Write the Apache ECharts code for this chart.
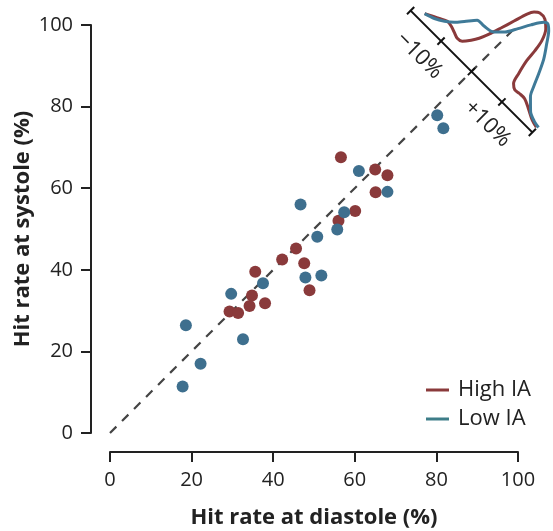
<!DOCTYPE html>
<html>
<head>
<meta charset="utf-8">
<script src="https://cdn.jsdelivr.net/npm/echarts@6/dist/echarts.min.js"></script>
<style>
html,body{margin:0;padding:0;background:#fff;}
#chart{width:553px;height:531px;}
</style>
</head>
<body>
<div id="chart"></div>
<script>
// ---- data ----
const axisTicks = [0, 20, 40, 60, 80, 100];
const highX = [56.6, 65.0, 68.0, 65.1, 60.1, 56.0, 45.6, 42.2, 47.6, 35.6, 48.9, 34.8, 34.2, 38.0, 29.3, 31.4];
const highY = [67.6, 64.6, 63.2, 59.0, 54.4, 52.0, 45.2, 42.5, 41.6, 39.5, 35.0, 33.7, 31.1, 31.8, 29.8, 29.4];
const lowX = [80.2, 81.7, 61.0, 68.0, 46.7, 57.4, 55.7, 50.8, 47.9, 51.8, 37.5, 29.7, 32.6, 18.6, 22.2, 17.8];
const lowY = [77.9, 74.7, 64.2, 59.1, 56.0, 54.1, 49.9, 48.1, 38.1, 38.6, 36.7, 34.1, 23.0, 26.4, 17.0, 11.4];

// inset: distribution of difference (%), relative density
const insetTicks = [-20, -10, 0, 10, 20];
const insetLabels = ['', '\u221210%', '', '+10%', ''];
const highDiff = [-17.2, -14.0, -12.2, -10.7, -9.3, -7.8, -6.5, -5.2, -4.2, -3.25, -2.3, -1.3, -0.3, 0.5, 1.6, 3.4, 5.2, 6.5, 7.0, 7.3, 8.1, 8.9, 10.1, 11.5, 13.2, 15.4, 18.0, 19.8];
const highDens = [0.078, 0.148, 0.184, 0.177, 0.156, 0.134, 0.148, 0.219, 0.29, 0.389, 0.516, 0.658, 0.799, 0.863, 0.898, 0.891, 0.827, 0.714, 0.594, 0.467, 0.318, 0.212, 0.177, 0.184, 0.184, 0.141, 0.085, 0.064];
const lowDiff = [-17.2, -14.8, -12.7, -10.9, -9.4, -7.5, -5.4, -2.8, -1.0, 0.6, 2.1, 3.8, 4.7, 6.0, 7.8, 9.8, 11.4, 12.7, 13.8, 16.3, 18.5, 20.2];
const lowDens = [0.078, 0.113, 0.165, 0.228, 0.304, 0.403, 0.41, 0.438, 0.516, 0.633, 0.75, 0.859, 0.877, 0.834, 0.728, 0.601, 0.46, 0.332, 0.24, 0.134, 0.092, 0.078];

// ---- styles / layout ----
const RED = '#8a3a3b';
const BLUE = '#3e6f8e';
const BLUE_LINE = '#3f7a98';
const TEAL = '#3d7d88';
const INK = '#222';
const FONT = 'Open Sans';
const W = 553, H = 531;
const G = {left: 110, right: 35, top: 25, bottom: 98};
const AX_MIN = 0, AX_MAX = 100;

// overlay grid covering whole canvas, same data scale as main grid
const pxX = (W - G.left - G.right) / (AX_MAX - AX_MIN);
const pxY = (H - G.top - G.bottom) / (AX_MAX - AX_MIN);
const ovX = [AX_MIN - G.left / pxX, AX_MAX + G.right / pxX];
const ovY = [AX_MIN - G.bottom / pxY, AX_MAX + G.top / pxY];

// inset placement (data units of the main scale)
const INSET_CENTER = 88.6;
const INSET_TSCALE = 1.055;   // data units per % along inset axis
const INSET_H = 24.5;         // data units per unit relative density
const LABEL_SPREAD = 1.12;
const S = Math.SQRT1_2;
function toMain(t, h) {
  return [INSET_CENTER + t * INSET_TSCALE * S + h * S,
          INSET_CENTER - t * INSET_TSCALE * S + h * S];
}

const chart = echarts.init(document.getElementById('chart'), null, {renderer: 'canvas'});

const axisCommon = {
  type: 'value', min: AX_MIN, max: AX_MAX, interval: 20, offset: 19, gridIndex: 0,
  axisLine: {show: true, onZero: false, lineStyle: {color: INK, width: 2}},
  axisTick: {show: true, length: 10, lineStyle: {color: INK, width: 2}},
  axisLabel: {color: INK, fontSize: 20, fontFamily: FONT, margin: 18},
  splitLine: {show: false},
  nameLocation: 'middle',
  nameMoveOverlap: false,
  nameTextStyle: {color: INK, fontSize: 22, fontWeight: 'bold', fontFamily: FONT}
};
const hiddenAxis = {
  type: 'value', gridIndex: 1, show: false,
  axisLine: {show: false}, axisTick: {show: false}, axisLabel: {show: false}, splitLine: {show: false}
};

chart.setOption({
  animation: false,
  backgroundColor: '#fff',
  grid: [
    {left: G.left, right: G.right, top: G.top, bottom: G.bottom, containLabel: false, outerBoundsMode: 'none'},
    {left: 0, right: 0, top: 0, bottom: 0, containLabel: false, outerBoundsMode: 'none'}
  ],
  xAxis: [
    Object.assign({}, axisCommon, {name: 'Hit rate at diastole (%)', nameGap: 55}),
    Object.assign({}, hiddenAxis, {min: ovX[0], max: ovX[1]})
  ],
  yAxis: [
    Object.assign({}, axisCommon, {name: 'Hit rate at systole (%)', nameGap: 57}),
    Object.assign({}, hiddenAxis, {min: ovY[0], max: ovY[1]})
  ],
  legend: {
    orient: 'vertical', left: 421, top: 374, itemWidth: 23, itemHeight: 3, itemGap: 7,
    textStyle: {color: INK, fontSize: 22, fontFamily: FONT, padding: [0, 0, 0, 4]},
    data: [
      {name: 'High IA', icon: 'rect', itemStyle: {color: RED}},
      {name: 'Low IA', icon: 'rect', itemStyle: {color: TEAL}}
    ]
  },
  series: [
    {
      type: 'line', name: 'identity', data: [[0, 0], [100, 100]], symbol: 'none', silent: true,
      lineStyle: {color: '#444', width: 2.2, type: [9, 8]}, z: 1
    },
    {
      type: 'scatter', name: 'High IA', data: highX.map((x, i) => [x, highY[i]]),
      symbolSize: 12, itemStyle: {color: RED, opacity: 1}, z: 3
    },
    {
      type: 'scatter', name: 'Low IA', data: lowX.map((x, i) => [x, lowY[i]]),
      symbolSize: 12, itemStyle: {color: BLUE, opacity: 1}, z: 4
    },
    {
      type: 'line', name: 'inset-axis', xAxisIndex: 1, yAxisIndex: 1,
      data: [toMain(insetTicks[0], 0), toMain(insetTicks[insetTicks.length - 1], 0)],
      symbol: 'none', silent: true, lineStyle: {color: '#111', width: 2}, z: 5
    },
    {
      type: 'custom', name: 'inset-ticks', xAxisIndex: 1, yAxisIndex: 1, silent: true, z: 5,
      data: insetTicks.map(t => [t, 0]),
      renderItem: function (params, api) {
        const t = insetTicks[params.dataIndex];
        const label = insetLabels[params.dataIndex];
        const a = api.coord(toMain(t, -1.25));
        const b = api.coord(toMain(t, 1.25));
        const c = api.coord(toMain(t * LABEL_SPREAD, -6.3));
        const children = [{
          type: 'line', shape: {x1: a[0], y1: a[1], x2: b[0], y2: b[1]},
          style: {stroke: '#111', lineWidth: 2}
        }];
        if (label) {
          children.push({
            type: 'text', x: c[0], y: c[1], rotation: -Math.PI / 4,
            style: {text: label, fill: INK, fontSize: 22, fontFamily: FONT, align: 'center', verticalAlign: 'middle'}
          });
        }
        return {type: 'group', children: children};
      }
    },
    {
      type: 'line', name: 'High IA', xAxisIndex: 1, yAxisIndex: 1,
      data: highDiff.map((t, i) => toMain(t, highDens[i] * INSET_H)),
      symbol: 'none', smooth: 0.3, silent: true, lineStyle: {color: RED, width: 3}, z: 6
    },
    {
      type: 'line', name: 'Low IA', xAxisIndex: 1, yAxisIndex: 1,
      data: lowDiff.map((t, i) => toMain(t, lowDens[i] * INSET_H)),
      symbol: 'none', smooth: 0.3, silent: true, lineStyle: {color: BLUE_LINE, width: 3}, z: 7
    }
  ]
});
</script>
</body>
</html>
